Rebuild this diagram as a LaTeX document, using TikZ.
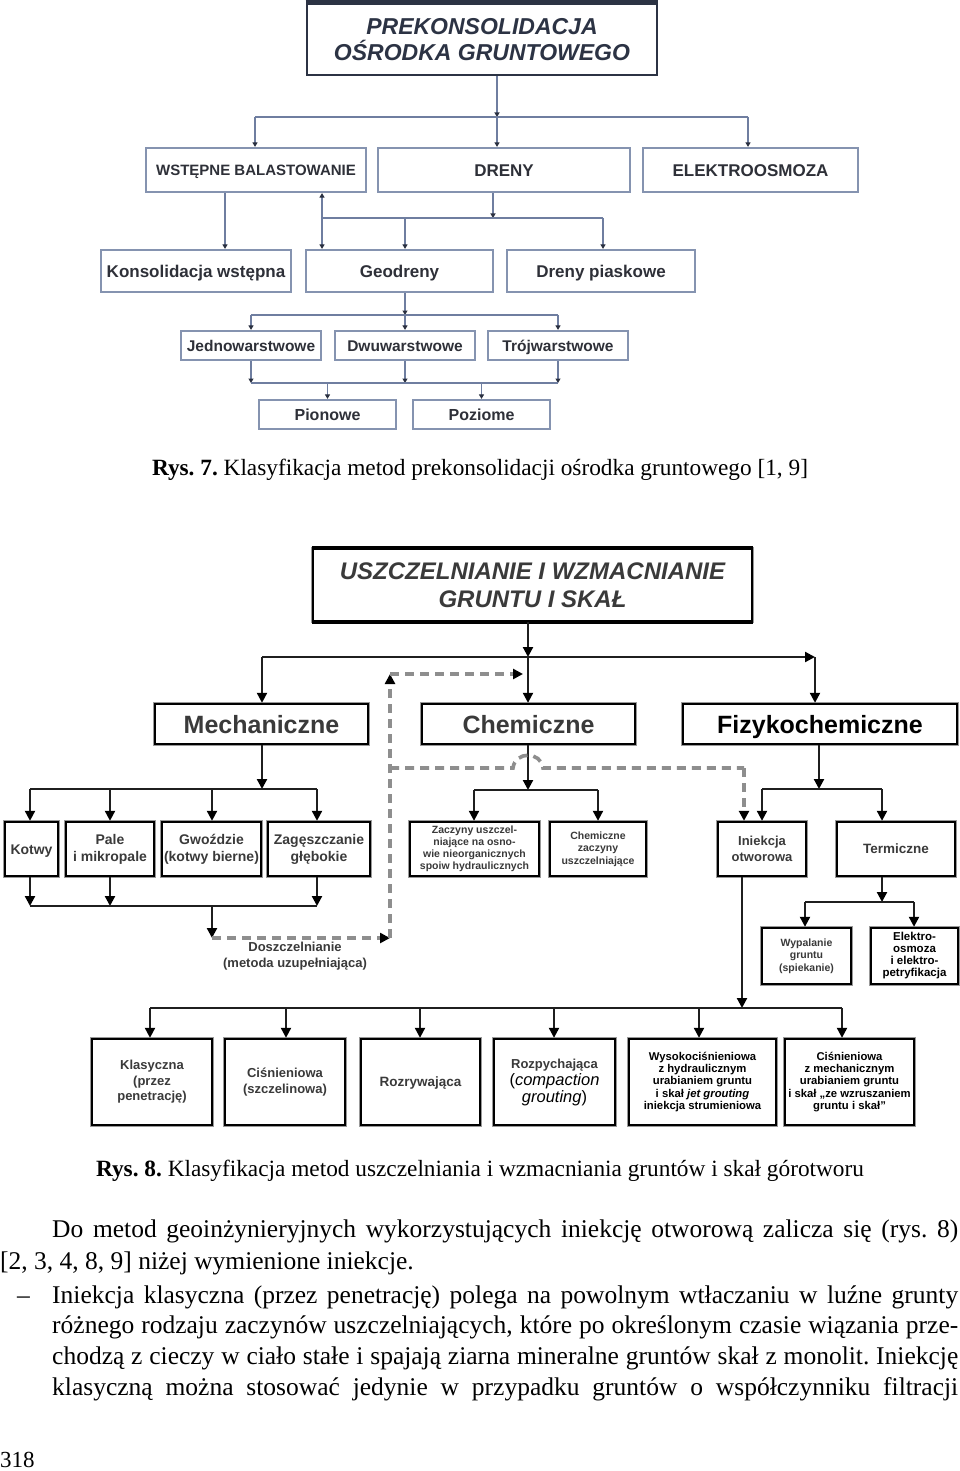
\documentclass[tikz,border=0pt]{standalone}
\usepackage{fontspec}
\setmainfont{Liberation Serif}
\setsansfont{Liberation Sans}
\usetikzlibrary{arrows.meta}
\definecolor{tboxc}{HTML}{8593B0}
\definecolor{tlinec}{HTML}{6F7EA0}
\definecolor{tarrowc}{HTML}{2A3040}
\definecolor{ttitle}{HTML}{2C3344}
\definecolor{ttext}{HTML}{2E3038}
\definecolor{btext}{HTML}{3A3A3A}
\definecolor{dashc}{HTML}{8E8E8E}
\newcommand\myfs[2]{\fontsize{#1}{#2}\selectfont}
\frenchspacing
\tikzset{
  tbox/.style={draw=tboxc, line width=2.2pt, fill=white, inner sep=0pt, align=center, text=ttext},
  onel/.style={text height=#1, text depth=0pt},
  tline/.style={draw=tlinec, line width=1.8pt},
  tarr/.style={tline, -{Triangle[width=5pt,length=4.5pt,color=tarrowc]}},
  bbox/.style={draw=black, line width=2.4pt, preaction={draw=black!40, line width=4.6pt}, fill=white, inner sep=0pt, align=center, text=btext},
  bline/.style={draw=black!88, line width=2.2pt},
  barr/.style={bline, -{Triangle[width=10pt,length=10pt,color=black]}},
  dline/.style={draw=dashc, line width=3.6pt, dash pattern=on 9pt off 6pt},
  darr/.style={dline, -{Triangle[width=10pt,length=10pt,color=black]}},
  bodytext/.style={inner sep=0pt, anchor=base west, font={\myfs{25.5}{30}}}
}
\begin{document}
\begin{tikzpicture}[x=1pt,y=-1pt]
\fill[white] (0,0) rectangle (960,1471);
\useasboundingbox (0,0) rectangle (960,1471);

% ================= Rys. 7 =================
\node[tbox, draw=ttitle, line width=2.6pt, minimum width=350pt, minimum height=71pt, text=ttitle,
      font={\sffamily\bfseries\itshape\myfs{23}{26}}] (t0) at (482,39.5) {PREKONSOLIDACJA\\OŚRODKA GRUNTOWEGO};
\draw[draw=ttitle, line width=4.5pt] (t0.north west) -- (t0.north east);

\node[tbox, onel=10.8pt, minimum width=220pt, minimum height=44pt, font={\sffamily\bfseries\myfs{15}{18}}] (a1) at (256,170) {WSTĘPNE BALASTOWANIE};
\node[tbox, onel=12.2pt, minimum width=252pt, minimum height=44pt, font={\sffamily\bfseries\myfs{17}{20}}] (a2) at (504,170) {DRENY};
\node[tbox, onel=12.2pt, minimum width=215pt, minimum height=44pt, font={\sffamily\bfseries\myfs{17}{20}}] (a3) at (750.5,170) {ELEKTROOSMOZA};

\node[tbox, onel=12.2pt, minimum width=190pt, minimum height=42pt, font={\sffamily\bfseries\myfs{17}{20}}] (b1) at (196,271) {Konsolidacja wstępna};
\node[tbox, onel=12.2pt, minimum width=187pt, minimum height=42pt, font={\sffamily\bfseries\myfs{17}{20}}] (b2) at (399.5,271) {Geodreny};
\node[tbox, onel=12.2pt, minimum width=188pt, minimum height=42pt, font={\sffamily\bfseries\myfs{17}{20}}] (b3) at (601,271) {Dreny piaskowe};

\node[tbox, onel=11.2pt, minimum width=140pt, minimum height=29pt, font={\sffamily\bfseries\myfs{15.5}{18}}] (c1) at (251,345.5) {Jednowarstwowe};
\node[tbox, onel=11.2pt, minimum width=140pt, minimum height=29pt, font={\sffamily\bfseries\myfs{15.5}{18}}] (c2) at (405,345.5) {Dwuwarstwowe};
\node[tbox, onel=11.2pt, minimum width=140pt, minimum height=29pt, font={\sffamily\bfseries\myfs{15.5}{18}}] (c3) at (558,345.5) {Trójwarstwowe};

\node[tbox, onel=11.5pt, minimum width=137pt, minimum height=29pt, font={\sffamily\bfseries\myfs{16}{19}}] (d1) at (327.5,414.5) {Pionowe};
\node[tbox, onel=11.5pt, minimum width=137pt, minimum height=29pt, font={\sffamily\bfseries\myfs{16}{19}}] (d2) at (481.5,414.5) {Poziome};

\coordinate (J0) at (497,117);
\coordinate (J0L) at (255,117);
\coordinate (J0R) at (748,117);
\draw[tarr] (t0.south -| J0) -- (J0);
\draw[tline] (J0L) -- (J0R);
\draw[tarr] (J0L) -- (a1.north -| J0L);
\draw[tarr] (J0) -- (a2.north -| J0);
\draw[tarr] (J0R) -- (a3.north -| J0R);

\coordinate (K1) at (225,220);
\draw[tarr] (a1.south -| K1) -- (b1.north -| K1);

\coordinate (J1) at (493,218);
\coordinate (J1L) at (322,218);
\coordinate (J1M) at (405,218);
\coordinate (J1R) at (603,218);
\draw[tarr] (a2.south -| J1) -- (J1);
\draw[tline] (J1L) -- (J1R);
\draw[tarr] (J1L) -- (a1.south -| J1L);
\draw[tarr] (J1L) -- (b2.north -| J1L);
\draw[tarr] (J1M) -- (b2.north -| J1M);
\draw[tarr] (J1R) -- (b3.north -| J1R);

\coordinate (J2) at (405,315);
\coordinate (J2L) at (251,315);
\coordinate (J2R) at (558,315);
\draw[tarr] (b2.south -| J2) -- (J2);
\draw[tline] (J2L) -- (J2R);
\draw[tarr] (J2L) -- (c1.north);
\draw[tarr] (J2) -- (c2.north);
\draw[tarr] (J2R) -- (c3.north);

\coordinate (J3L) at (251,383);
\coordinate (J3M) at (405,383);
\coordinate (J3R) at (558,383);
\coordinate (J3a) at (327.5,383);
\coordinate (J3b) at (481.5,383);
\draw[tarr] (c1.south) -- (J3L);
\draw[tarr] (c2.south) -- (J3M);
\draw[tarr] (c3.south) -- (J3R);
\draw[tline] (J3L) -- (J3R);
\draw[tarr] (J3a) -- (d1.north);
\draw[tarr] (J3b) -- (d2.north);

\node[inner sep=0pt, anchor=base, font={\myfs{23.3}{26}}] (cap7) at (480,475)
  {\textbf{Rys. 7.} Klasyfikacja metod prekonsolidacji ośrodka gruntowego [1, 9]};

% ================= Rys. 8 =================
\node[bbox, minimum width=439pt, minimum height=72pt, font={\sffamily\bfseries\itshape\myfs{24}{28}}] (T) at (532.5,585)
  {USZCZELNIANIE I WZMACNIANIE\\GRUNTU I SKAŁ};
\draw[line width=4.5pt] (T.north west) -- (T.north east);
\draw[line width=4.5pt] (T.south west) -- (T.south east);

\node[bbox, onel=18pt, minimum width=213pt, minimum height=40pt, font={\sffamily\bfseries\myfs{25}{28}}] (M) at (261.5,724) {Mechaniczne};
\node[bbox, onel=18pt, minimum width=213pt, minimum height=40pt, font={\sffamily\bfseries\myfs{25}{28}}] (C) at (528.5,724) {Chemiczne};
\node[bbox, onel=18pt, minimum width=274pt, minimum height=40pt, text=black, font={\sffamily\bfseries\myfs{25}{28}}] (F) at (820,724) {Fizykochemiczne};

\coordinate (S0) at (528,657);
\coordinate (S0L) at (262,657);
\coordinate (S0R) at (815,657);
\draw[barr] (T.south -| S0) -- (S0);
\draw[barr] (S0L) -- (S0R);
\draw[barr] (S0L) -- (M.north -| S0L);
\draw[barr] (S0) -- (C.north -| S0);
\draw[barr] (S0R) -- (F.north -| S0R);

% Mechaniczne branch
\node[bbox, onel=10pt, minimum width=53pt, minimum height=54pt, font={\sffamily\bfseries\myfs{14}{17}}] (k1) at (31.5,849) {Kotwy};
\node[bbox, minimum width=88pt, minimum height=54pt, font={\sffamily\bfseries\myfs{14}{17}}] (k2) at (110,849) {Pale\\i mikropale};
\node[bbox, minimum width=99pt, minimum height=54pt, font={\sffamily\bfseries\myfs{14}{17}}] (k3) at (211.5,849) {Gwoździe\\(kotwy bierne)};
\node[bbox, minimum width=102pt, minimum height=54pt, font={\sffamily\bfseries\myfs{14}{17}}] (k4) at (319,849) {Zagęszczanie\\głębokie};

\coordinate (S1) at (262,789);
\coordinate (S1L) at (30,789);
\coordinate (S1b) at (110,789);
\coordinate (S1c) at (212,789);
\coordinate (S1R) at (317,789);
\draw[barr] (M.south -| S1) -- (S1);
\draw[bline] (S1L) -- (S1R);
\draw[barr] (S1L) -- (k1.north -| S1L);
\draw[barr] (S1b) -- (k2.north -| S1b);
\draw[barr] (S1c) -- (k3.north -| S1c);
\draw[barr] (S1R) -- (k4.north -| S1R);

\coordinate (S2L) at (30,906);
\coordinate (S2b) at (110,906);
\coordinate (S2c) at (212,906);
\coordinate (S2R) at (317,906);
\draw[barr] (k1.south -| S2L) -- (S2L);
\draw[barr] (k2.south -| S2b) -- (S2b);
\draw[barr] (k4.south -| S2R) -- (S2R);
\draw[bline] (S2L) -- (S2R);
\coordinate (D0) at (212,938);
\draw[barr] (S2c) -- (D0);

\node[inner sep=0pt, align=center, text=btext, font={\sffamily\bfseries\myfs{13}{16}}] (dz) at (295,956)
  {Doszczelnianie\\(metoda uzupełniająca)};

% dashed links
\coordinate (D1) at (390,938);
\coordinate (D2) at (390,674);
\coordinate (D3) at (523,674);
\draw[darr] (D0) -- (D1);
\draw[darr] (D1) -- (D2);
\draw[darr] (D2) -- (D3);

% Chemiczne branch
\node[bbox, minimum width=129pt, minimum height=54pt, font={\sffamily\bfseries\myfs{10.5}{12}}] (z1) at (474.5,849)
  {Zaczyny uszczel-\\niające na osno-\\wie nieorganicznych\\spoiw hydraulicznych};
\node[bbox, minimum width=96pt, minimum height=54pt, font={\sffamily\bfseries\myfs{10.5}{12.5}}] (z2) at (598,849)
  {Chemiczne\\zaczyny\\uszczelniające};

\coordinate (S3) at (528,790);
\coordinate (S3L) at (474,790);
\coordinate (S3R) at (598,790);
\draw[barr] (C.south -| S3) -- (S3);
\draw[bline] (S3L) -- (S3R);
\draw[barr] (S3L) -- (z1.north -| S3L);
\draw[barr] (S3R) -- (z2.north -| S3R);

% Fizykochemiczne branch
\node[bbox, minimum width=88pt, minimum height=54pt, font={\sffamily\bfseries\myfs{13}{16}}] (i1) at (762,849) {Iniekcja\\otworowa};
\node[bbox, onel=9.7pt, minimum width=118pt, minimum height=54pt, font={\sffamily\bfseries\myfs{13.5}{16}}] (i2) at (896,849) {Termiczne};

\coordinate (S4) at (819,789);
\coordinate (S4L) at (762,789);
\coordinate (S4R) at (882,789);
\draw[barr] (F.south -| S4) -- (S4);
\draw[bline] (S4L) -- (S4R);
\draw[barr] (S4L) -- (i1.north -| S4L);
\draw[barr] (S4R) -- (i2.north -| S4R);

\coordinate (D4) at (390,768);
\coordinate (H1) at (513,768);
\coordinate (H2) at (543,768);
\coordinate (D5) at (744,768);
\draw[dline] (D4) -- (H1) .. controls (515,751) and (541,751) .. (H2) -- (D5);
\draw[darr] (D5) -- (i1.north -| D5);

\node[bbox, minimum width=89pt, minimum height=56pt, font={\sffamily\bfseries\myfs{10.5}{12.5}}] (w1) at (806.5,956)
  {Wypalanie\\gruntu\\(spiekanie)};
\node[bbox, minimum width=87pt, minimum height=56pt, text=black, font={\sffamily\bfseries\myfs{11.5}{12}}] (w2) at (914.5,956)
  {Elektro-\\osmoza\\i elektro-\\petryfikacja};

\coordinate (S5) at (882,902);
\coordinate (S5L) at (805,902);
\coordinate (S5R) at (914,902);
\draw[barr] (i2.south -| S5) -- (S5);
\draw[bline] (S5L) -- (S5R);
\draw[barr] (S5L) -- (w1.north -| S5L);
\draw[barr] (S5R) -- (w2.north -| S5R);

% Iniekcja otworowa -> bottom row
\node[bbox, minimum width=120pt, minimum height=86pt, font={\sffamily\bfseries\myfs{13}{15.5}}] (e1) at (152,1082)
  {Klasyczna\\(przez\\penetrację)};
\node[bbox, minimum width=120pt, minimum height=86pt, font={\sffamily\bfseries\myfs{13}{15.5}}] (e2) at (285,1082)
  {Ciśnieniowa\\(szczelinowa)};
\node[bbox, onel=9.7pt, minimum width=119pt, minimum height=86pt, font={\sffamily\bfseries\myfs{13.5}{16}}] (e3) at (420.5,1082)
  {Rozrywająca};
\node[bbox, minimum width=121pt, minimum height=86pt, font={\sffamily\bfseries\myfs{13}{17}}] (e4) at (554.5,1082)
  {Rozpychająca\\{\color{black}\mdseries\myfs{16.5}{17}(\textit{compaction}}\\{\color{black}\mdseries\myfs{16.5}{17}\textit{grouting})}};
\node[bbox, minimum width=147pt, minimum height=86pt, text=black, font={\sffamily\bfseries\myfs{11.3}{12.2}}] (e5) at (702.5,1082)
  {Wysokociśnieniowa\\z hydraulicznym\\urabianiem gruntu\\i skał \textit{jet grouting}\\iniekcja strumieniowa};
\node[bbox, minimum width=129pt, minimum height=86pt, text=black, font={\sffamily\bfseries\myfs{11.3}{12.2}}] (e6) at (849.5,1082)
  {Ciśnieniowa\\z mechanicznym\\urabianiem gruntu\\i skał „ze wzruszaniem\\gruntu i skał”};

\coordinate (S6) at (742,1008);
\coordinate (S6L) at (150,1008);
\coordinate (S6R) at (842,1008);
\coordinate (S6b) at (286,1008);
\coordinate (S6c) at (420,1008);
\coordinate (S6d) at (554,1008);
\coordinate (S6e) at (699,1008);
\draw[barr] (i1.south -| S6) -- (S6);
\draw[bline] (S6L) -- (S6R);
\draw[barr] (S6L) -- (e1.north -| S6L);
\draw[barr] (S6b) -- (e2.north -| S6b);
\draw[barr] (S6c) -- (e3.north -| S6c);
\draw[barr] (S6d) -- (e4.north -| S6d);
\draw[barr] (S6e) -- (e5.north -| S6e);
\draw[barr] (S6R) -- (e6.north -| S6R);

\node[inner sep=0pt, anchor=base, font={\myfs{23.3}{26}}] (cap8) at (480,1176)
  {\textbf{Rys. 8.} Klasyfikacja metod uszczelniania i wzmacniania gruntów i skał górotworu};

% ================= body text =================
\node[bodytext] (l1) at (52,1237) {\makebox[906pt][s]{Do metod geoinżynieryjnych wykorzystujących iniekcję otworową zalicza się (rys. 8)}};
\node[bodytext] (l2) at (0,1269) {[2, 3, 4, 8, 9] niżej wymienione iniekcje.};
\node[bodytext] (dash) at (17,1303) {–};
\node[bodytext] (l3) at (52,1303) {\makebox[906pt][s]{Iniekcja klasyczna (przez penetrację) polega na powolnym wtłaczaniu w luźne grunty}};
\node[bodytext] (l4) at (52,1333) {\makebox[906pt][s]{różnego rodzaju zaczynów uszczelniających, które po określonym czasie wiązania prze-}};
\node[bodytext] (l5) at (52,1364) {\makebox[906pt][s]{chodzą z cieczy w ciało stałe i spajają ziarna mineralne gruntów skał z monolit. Iniekcję}};
\node[bodytext] (l6) at (52,1395) {\makebox[906pt][s]{klasyczną można stosować jedynie w przypadku gruntów o współczynniku filtracji}};
\node[bodytext, font={\myfs{23}{26}}] (pg) at (0,1467) {318};
\end{tikzpicture}
\end{document}
